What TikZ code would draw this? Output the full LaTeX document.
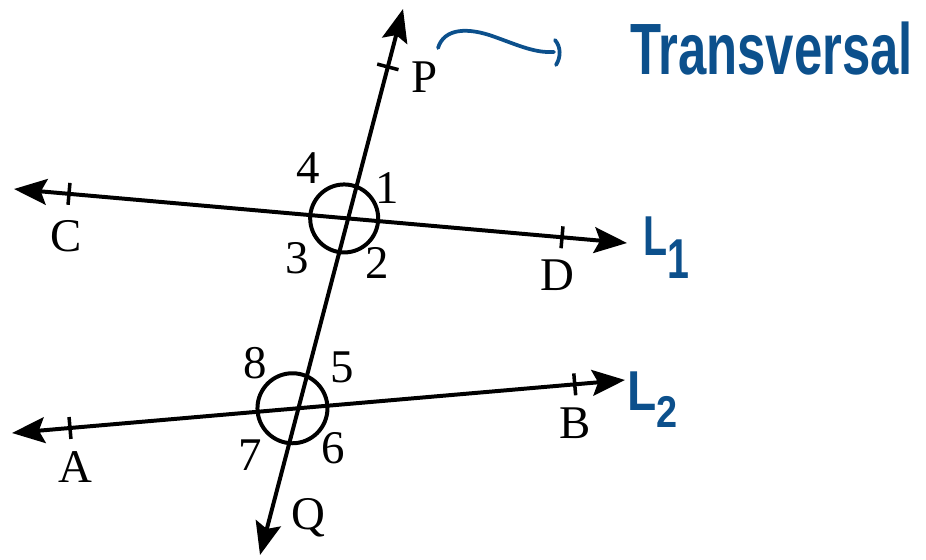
\documentclass[tikz,border=0pt]{standalone}
\usepackage{fontspec}
\setmainfont{Liberation Serif}
\newfontfamily\hand{Liberation Sans}
\usetikzlibrary{arrows.meta,calc}
\definecolor{ink}{RGB}{12,80,140}
\begin{document}
\begin{tikzpicture}[x=0.03cm,y=-0.03cm,
  >={Stealth[length=28pt,width=22pt,inset=5pt]},
  geoline/.style={line width=3.4pt,<->},
  lbl/.style={font=\fontsize{40}{48}\selectfont,inner sep=0pt},
  tickmark/.style={line width=3pt},
  angcirc/.style={line width=3.4pt},
  handtxt/.style={text=ink,font=\hand\bfseries\fontsize{48}{56}\selectfont,inner sep=0pt},
  handline/.style={draw=ink,line width=3.2pt,line cap=round}
]
\useasboundingbox (0,0) rectangle (926,559);
\coordinate (Tt) at (403,9);
\coordinate (Tb) at (260,555);
\coordinate (Cend) at (14,189);
\coordinate (Dend) at (627,243);
\coordinate (Aend) at (12,433);
\coordinate (Bend) at (625,380);
\draw[geoline] (Tt) -- (Tb);
\draw[geoline] (Cend) -- (Dend);
\draw[geoline] (Aend) -- (Bend);
\coordinate (X1) at (intersection of Tt--Tb and Cend--Dend);
\coordinate (X2) at (intersection of Tt--Tb and Aend--Bend);
\draw[angcirc] ($(X1)+(-4,0)$) circle[radius=34];
\draw[angcirc] ($(X2)+(-6,0)$) circle[radius=35];
\foreach \a/\b/\t [count=\i] in {Cend/Dend/0.0897, Cend/Dend/0.894, Aend/Bend/0.0946, Aend/Bend/0.918, Tt/Tb/0.106} {
  \coordinate (m\i) at ($(\a)!\t!(\b)$);
  \draw[tickmark] ($(m\i)!0.33cm!90:(\b)$) -- ($(m\i)!0.33cm!-90:(\b)$);
}
\node[lbl] (C) at (66,236) {C};
\node[lbl] (D) at (557,275) {D};
\node[lbl] (A) at (75,467) {A};
\node[lbl] (B) at (575,423) {B};
\node[lbl] (P) at (425,77) {P};
\node[lbl] (Q) at (308,518) {Q};
\node[lbl] (n1) at (387,188) {1};
\node[lbl] (n2) at (377,263) {2};
\node[lbl] (n3) at (297,258) {3};
\node[lbl] (n4) at (308,168) {4};
\node[lbl] (n5) at (342,367) {5};
\node[lbl] (n6) at (333,448) {6};
\node[lbl] (n7) at (250,455) {7};
\node[lbl] (n8) at (255,363) {8};
\node[handtxt,anchor=base west,font=\hand\bfseries\fontsize{62}{66}\selectfont] (trans) at (630,74) {\scalebox{0.7}[1]{Transversal}};
\node[handtxt,anchor=base west] (L1) at (643,255) {\scalebox{0.7}[1]{L\raisebox{-0.8ex}{1}}};
\node[handtxt,anchor=base west] (L2) at (627,410) {\scalebox{0.85}[1]{L\raisebox{-0.6ex}{\fontsize{38}{40}\selectfont 2}}};
\coordinate (ps) at (438,48);
\coordinate (pe) at (554,52);
\coordinate (bt) at (555,40);
\coordinate (bb) at (556,65);
\draw[handline] (ps) .. controls (444,28) and (468,27) .. (495,37) .. controls (520,46) and (535,53) .. (pe);
\draw[handline] (bt) .. controls (561,47) and (561,57) .. (bb);
\end{tikzpicture}
\end{document}
